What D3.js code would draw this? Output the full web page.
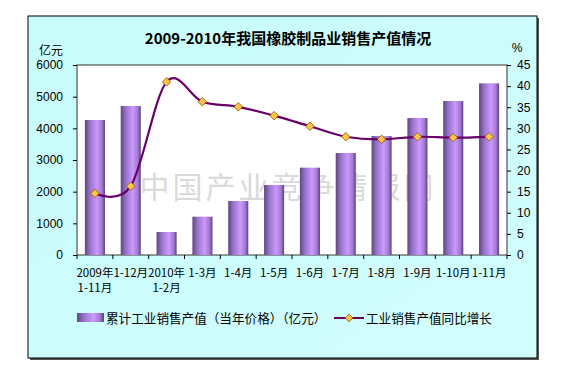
<!DOCTYPE html>
<html><head><meta charset="utf-8">
<script src="https://cdn.jsdelivr.net/npm/d3@7"></script>
<style>body{margin:0;background:#fff}svg{display:block}</style>
</head><body>
<script>
const categories = [["2009年","1-11月"],["1-12月"],["2010年","1-2月"],["1-3月"],["1-4月"],["1-5月"],["1-6月"],["1-7月"],["1-8月"],["1-9月"],["1-10月"],["1-11月"]];
const salesValues = [4263, 4705, 726, 1210, 1705, 2210, 2758, 3221, 3758, 4326, 4863, 5421];
const growthValues = [14.6, 16.3, 41.0, 36.3, 35.1, 33.0, 30.5, 28.0, 27.4, 28.0, 27.8, 28.0];
const leftTicks = [0,1000,2000,3000,4000,5000,6000];
const rightTicks = [0,5,10,15,20,25,30,35,40,45];
const titleText = "2009-2010年我国橡胶制品业销售产值情况";
const barName = "累计工业销售产值（当年价格）（亿元）";
const lineName = "工业销售产值同比增长";
const watermark = "中国产业竞争情报网";

const W = 573, H = 380;
const svg = d3.select("body").append("svg").attr("width", W).attr("height", H);
const defs = svg.append("defs");
const g1 = defs.append("linearGradient").attr("id","barGrad").attr("x1","0").attr("x2","1").attr("y1","0").attr("y2","0");
[[0,"#5e4680"],[0.25,"#9773c8"],[0.6,"#cc99ff"],[0.85,"#a07ad0"],[1,"#5a4078"]].forEach(([o,c])=>g1.append("stop").attr("offset",o).attr("stop-color",c));
const g2 = defs.append("linearGradient").attr("id","bgGrad").attr("x1","0").attr("x2","1").attr("y1","0").attr("y2","1");
g2.append("stop").attr("offset",0).attr("stop-color","#c8fbfb");
g2.append("stop").attr("offset",1).attr("stop-color","#d2fdfd");

// outer frame with shadow
svg.append("rect").attr("x",30).attr("y",18).attr("width",509).attr("height",342).attr("fill","#555");
svg.append("rect").attr("x",28).attr("y",16).attr("width",509).attr("height",342).attr("fill","url(#bgGrad)").attr("stroke","#000").attr("stroke-width",1);

const L = 77, R = 507, T = 65, B = 255;
const x = d3.scaleBand().domain(d3.range(categories.length)).range([L,R]).paddingInner(0.44).paddingOuter(0.22);
const yL = d3.scaleLinear().domain([0,6000]).range([B,T]);
const yR = d3.scaleLinear().domain([0,45]).range([B,T]);

svg.append("rect").attr("x",L).attr("y",T).attr("width",R-L).attr("height",B-T).attr("fill","#fff").attr("stroke","#333").attr("stroke-width",1);

// watermark
svg.append("text").attr("x",288).attr("y",198).attr("text-anchor","middle")
  .attr("font-family","'Noto Sans CJK SC'").attr("font-size",30).attr("letter-spacing",3)
  .attr("fill","#bcbcbc").attr("opacity",0.55).text(watermark);

// title
svg.append("text").attr("x",288).attr("y",44).attr("text-anchor","middle")
  .attr("font-family","'Noto Sans CJK SC'").attr("font-weight","bold").attr("font-size",15).attr("fill","#000").text(titleText);

// bars
svg.append("g").selectAll("rect").data(salesValues).join("rect")
  .attr("x",(d,i)=>x(i)).attr("width",x.bandwidth())
  .attr("y",d=>yL(d)).attr("height",d=>B-yL(d)).attr("fill","url(#barGrad)");

// axes
const fontAx = "'Liberation Sans', Arial, sans-serif";
const axL = svg.append("g").attr("transform",`translate(${L},0)`).call(d3.axisLeft(yL).tickValues(leftTicks).tickSize(4).tickPadding(10).tickFormat(d3.format("d")));
const axR = svg.append("g").attr("transform",`translate(${R},0)`).call(d3.axisRight(yR).tickValues(rightTicks).tickSize(4).tickPadding(6));
[axL,axR].forEach(a=>{a.select(".domain").remove();a.selectAll("line").attr("stroke","#000");a.selectAll("text").attr("font-family",fontAx).attr("font-size",12).attr("fill","#000");});

// x ticks at category boundaries
const step = x.step();
svg.append("g").selectAll("line").data(d3.range(categories.length+1)).join("line")
  .attr("x1",i=>L+i*step).attr("x2",i=>L+i*step).attr("y1",B).attr("y2",B+4).attr("stroke","#000");

// x labels
const xl = svg.append("g").selectAll("text").data(categories).join("text")
  .attr("font-family","'Noto Sans CJK SC'").attr("font-size",11.5).attr("fill","#000").attr("text-anchor","middle");
xl.each(function(d,i){
  const t = d3.select(this);
  d.forEach((s,j)=>t.append("tspan").attr("x",x(i)+x.bandwidth()/2).attr("y",277+j*15).text(s));
});

// axis unit labels
svg.append("text").attr("x",51).attr("y",55).attr("text-anchor","middle").attr("font-family","'Noto Sans CJK SC'").attr("font-size",12).text("亿元");
svg.append("text").attr("x",517).attr("y",52).attr("text-anchor","middle").attr("font-family",fontAx).attr("font-size",12).text("%");

// line
const line = d3.line().x((d,i)=>x(i)+x.bandwidth()/2).y(d=>yR(d)).curve(d3.curveCatmullRom.alpha(0));
svg.append("path").datum(growthValues).attr("d",line).attr("fill","none").attr("stroke","#6a006a").attr("stroke-width",2.2);
svg.append("g").selectAll("path").data(growthValues).join("path")
  .attr("d",d3.symbol().type(d3.symbolSquare).size(36))
  .attr("transform",(d,i)=>`translate(${x(i)+x.bandwidth()/2},${yR(d)}) rotate(45)`)
  .attr("fill","#ffc64a").attr("stroke","#8a5a00").attr("stroke-width",0.8);

// legend
const ly = 318;
svg.append("rect").attr("x",77).attr("y",ly-5).attr("width",27).attr("height",9).attr("fill","url(#barGrad)");
svg.append("text").attr("x",106).attr("y",ly+4.5).attr("font-family","'Noto Sans CJK SC'").attr("font-size",12.6).text(barName);
svg.append("line").attr("x1",334).attr("x2",364).attr("y1",ly).attr("y2",ly).attr("stroke","#6a006a").attr("stroke-width",2);
svg.append("path").attr("d",d3.symbol().type(d3.symbolSquare).size(30)).attr("transform",`translate(349,${ly}) rotate(45)`)
  .attr("fill","#ffc64a").attr("stroke","#8a5a00").attr("stroke-width",0.8);
svg.append("text").attr("x",366).attr("y",ly+4.5).attr("font-family","'Noto Sans CJK SC'").attr("font-size",12.6).text(lineName);
</script>
</body></html>
